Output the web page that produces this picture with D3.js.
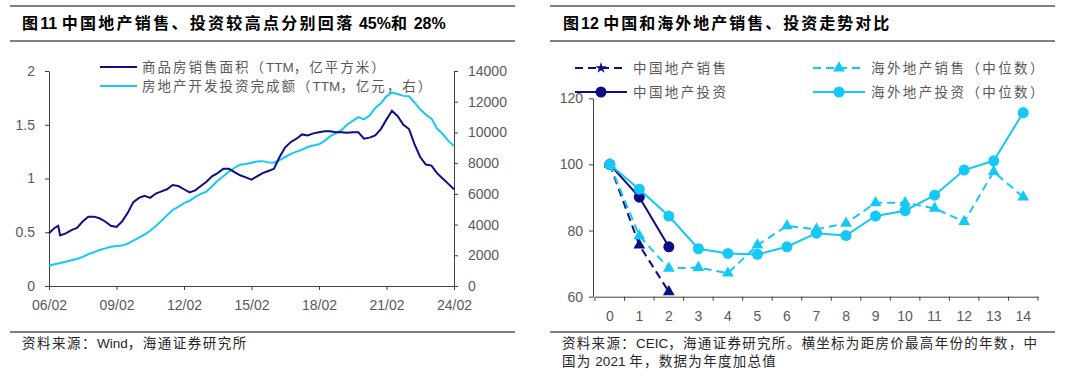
<!DOCTYPE html>
<html>
<head>
<meta charset="utf-8">
<script src="https://cdn.jsdelivr.net/npm/d3@7"></script>
<style>
  body { margin: 0; background: #fff; }
  svg text { font-family: "Liberation Sans", "Noto Sans CJK SC", sans-serif; }
  .tick text { fill: #595959; font-size: 14px; }
  .axis path, .axis line { stroke: #404040; }
</style>
</head>
<body>
<div id="chart"></div>
<script>
// left chart: quarterly readings (TTM)
const months = ['2006-02','2006-05','2006-07','2006-08','2006-11','2007-02','2007-05','2007-08','2007-11',
  '2008-02','2008-05','2008-08','2008-11','2009-02','2009-05','2009-08','2009-11',
  '2010-02','2010-05','2010-08','2010-11','2011-02','2011-05','2011-08','2011-11',
  '2012-02','2012-05','2012-08','2012-11','2013-02','2013-05','2013-08','2013-11',
  '2014-02','2014-05','2014-08','2014-11','2015-02','2015-05','2015-08','2015-11',
  '2016-02','2016-05','2016-08','2016-11','2017-02','2017-05','2017-08','2017-11',
  '2018-02','2018-05','2018-08','2018-11','2019-02','2019-05','2019-08','2019-11',
  '2020-02','2020-05','2020-08','2020-11','2021-02','2021-05','2021-08','2021-11',
  '2022-02','2022-05','2022-08','2022-11','2023-02','2023-05','2023-08','2023-11','2024-02'];
const salesArea = [0.49,0.54,0.56,0.47,0.49,0.52,0.54,0.60,0.645,
  0.645,0.63,0.60,0.56,0.55,0.60,0.68,0.78,
  0.82,0.84,0.82,0.86,0.88,0.90,0.94,0.93,
  0.90,0.87,0.89,0.93,0.97,1.02,1.05,1.09,
  1.09,1.06,1.03,1.01,0.99,1.02,1.05,1.07,
  1.09,1.20,1.29,1.34,1.37,1.41,1.40,1.42,
  1.43,1.44,1.44,1.43,1.43,1.425,1.43,1.43,
  1.37,1.38,1.40,1.46,1.55,1.63,1.58,1.50,
  1.46,1.32,1.20,1.13,1.12,1.05,1.00,0.95,0.90];
const investment = [1320,1420,1470,1500,1580,1680,1760,1900,2080,
  2200,2350,2450,2560,2600,2630,2750,2950,
  3150,3350,3600,3900,4250,4600,4950,5150,
  5400,5550,5800,6000,6150,6500,6850,7150,
  7450,7700,7900,7950,8030,8100,8130,8050,
  8030,8200,8400,8600,8750,8880,9050,9150,
  9230,9450,9750,9950,10150,10500,10750,11000,
  10850,11100,11600,11900,12350,12600,12500,12380,
  12350,11950,11500,11150,10900,10250,9900,9450,9120];
const leftTicks = ['2006-02','2009-02','2012-02','2015-02','2018-02','2021-02','2024-02'];

// right chart: years from price peak
const years = d3.range(0, 15);
const cnSales = [100, 75.6, 61.5];
const cnInvest = [100, 90.1, 75.1];
const osSales = [100, 78.4, 68.6, 68.8, 67.1, 75.6, 81.4, 80.4, 82.2, 88.4, 88.4, 86.7, 82.7, 97.8, 90.1];
const osInvest = [100, 92.5, 84.4, 74.5, 73.1, 72.8, 75.1, 79.2, 78.5, 84.4, 86.0, 90.7, 98.3, 101.1, 115.7];

const dark = '#0d0d86';
const light = '#14c8f8';
const W = 1080, H = 378;

const svg = d3.select('#chart').append('svg')
  .attr('width', W).attr('height', H);

// text with spaced-out CJK runs, latin left as is
function label(x, y, str, size, color, spacing, bold) {
  const t = svg.append('text').attr('x', x).attr('y', y)
    .style('font-size', size + 'px').attr('fill', color);
  if (bold) t.style('font-weight', 'bold');
  str.match(/[\u3000-\u9fff\uff00-\uffef]+|[^\u3000-\u9fff\uff00-\uffef]+/g).forEach(run => {
    const cjk = /[\u3000-\u9fff\uff00-\uffef]/.test(run);
    t.append('tspan').style('letter-spacing', cjk ? spacing + 'px' : '0px').text(run);
  });
  return t;
}

// title bars and footnote rules
[[10, 515], [550, 1055]].forEach(([a, b]) => {
  [6, 41, 332].forEach(y => {
    svg.append('line').attr('x1', a).attr('x2', b).attr('y1', y).attr('y2', y)
      .attr('stroke', '#808080').attr('stroke-width', 2);
  });
});

label(22, 29, '图11 中国地产销售、投资较高点分别回落 45%和 28%', 16, '#000', 2.3, true);
label(563, 29, '图12 中国和海外地产销售、投资走势对比', 16, '#000', 2, true);

// ---- left chart ----
const parse = d3.timeParse('%Y-%m');
const dates = months.map(parse);

const xL = d3.scaleTime().domain([parse('2006-02'), parse('2024-02')]).range([49, 454]);
const yL = d3.scaleLinear().domain([0, 2]).range([286, 71]);
const yR = d3.scaleLinear().domain([0, 14000]).range([286, 71]);

svg.append('g').attr('class', 'axis').attr('transform', 'translate(0,286)')
  .call(d3.axisBottom(xL).tickValues(leftTicks.map(parse)).tickFormat(d3.timeFormat('%y/%m'))
    .tickSizeInner(4).tickSizeOuter(0).tickPadding(10));
svg.append('g').attr('class', 'axis').attr('transform', 'translate(49,0)')
  .call(d3.axisLeft(yL).tickValues([0, 0.5, 1, 1.5, 2]).tickFormat(d => d)
    .tickSizeInner(4).tickSizeOuter(0).tickPadding(10));
svg.append('g').attr('class', 'axis').attr('transform', 'translate(454,0)')
  .call(d3.axisRight(yR).tickValues(d3.range(0, 14001, 2000)).tickFormat(d => d)
    .tickSizeInner(4).tickSizeOuter(0).tickPadding(10));

svg.append('path').datum(investment)
  .attr('fill', 'none').attr('stroke', light).attr('stroke-width', 2)
  .attr('d', d3.line().x((d, i) => xL(dates[i])).y(d => yR(d)));
svg.append('path').datum(salesArea)
  .attr('fill', 'none').attr('stroke', dark).attr('stroke-width', 2)
  .attr('d', d3.line().x((d, i) => xL(dates[i])).y(d => yL(d)));

const legL = [['商品房销售面积（TTM，亿平方米）', dark], ['房地产开发投资完成额（TTM，亿元，右）', light]];
legL.forEach(([t, c], i) => {
  const y = 67 + i * 19;
  svg.append('line').attr('x1', 100).attr('x2', 137).attr('y1', y).attr('y2', y)
    .attr('stroke', c).attr('stroke-width', 2);
  label(142, y + 5, t, 13.5, '#595959', 2);
});

// ---- right chart ----
const xC = d3.scaleBand().domain(years).range([595, 1038]);
const yC = d3.scaleLinear().domain([60, 120]).range([296.7, 98.3]);
const cx = i => xC(i) + xC.bandwidth() / 2;

const xAxisC = svg.append('g').attr('class', 'axis').attr('transform', 'translate(0,296.7)')
  .call(d3.axisBottom(xC).tickSize(0).tickPadding(14));
xAxisC.selectAll('.tick').append('line')
  .attr('x1', -xC.bandwidth() / 2).attr('x2', -xC.bandwidth() / 2).attr('y2', 4).attr('stroke', '#404040');
xAxisC.append('line').attr('x1', 1038).attr('x2', 1038).attr('y2', 4).attr('stroke', '#404040');
svg.append('g').attr('class', 'axis').attr('transform', 'translate(593,0)')
  .call(d3.axisLeft(yC).tickValues([60, 80, 100, 120]).tickSizeInner(4).tickSizeOuter(0).tickPadding(6));

const tri = d3.symbol().type(d3.symbolTriangle).size(60);
const series = [
  {vals: cnSales, color: dark, dash: '8,5', mark: 'tri'},
  {vals: cnInvest, color: dark, dash: null, mark: 'dot'},
  {vals: osSales, color: light, dash: '8,5', mark: 'tri'},
  {vals: osInvest, color: light, dash: null, mark: 'dot'}
];
series.forEach(s => {
  svg.append('path').datum(s.vals)
    .attr('fill', 'none').attr('stroke', s.color).attr('stroke-width', 2)
    .attr('stroke-dasharray', s.dash)
    .attr('d', d3.line().x((d, i) => cx(i)).y(d => yC(d)));
  const g = svg.append('g');
  if (s.mark === 'dot') {
    g.selectAll('circle').data(s.vals).join('circle')
      .attr('cx', (d, i) => cx(i)).attr('cy', d => yC(d)).attr('r', 5.5).attr('fill', s.color);
  } else {
    g.selectAll('path').data(s.vals).join('path')
      .attr('d', tri).attr('fill', s.color)
      .attr('transform', (d, i) => `translate(${cx(i)},${yC(d)})`);
  }
});

const legC = [
  ['中国地产销售', dark, '8,5', 'star', 575, 68],
  ['中国地产投资', dark, null, 'dot', 575, 92],
  ['海外地产销售（中位数）', light, '8,5', 'tri', 813, 68],
  ['海外地产投资（中位数）', light, null, 'dot', 813, 92]
];
legC.forEach(([t, c, dash, m, x, y]) => {
  svg.append('line').attr('x1', x).attr('x2', x + 52).attr('y1', y).attr('y2', y)
    .attr('stroke', c).attr('stroke-width', 2).attr('stroke-dasharray', dash);
  if (m === 'dot') {
    svg.append('circle').attr('cx', x + 26).attr('cy', y).attr('r', 5.5).attr('fill', c);
  } else {
    const sym = m === 'star' ? d3.symbol().type(d3.symbolStar).size(40) : tri;
    svg.append('path').attr('d', sym).attr('fill', c).attr('transform', `translate(${x + 26},${y})`);
  }
  label(x + 58, y + 5, t, 13.5, '#595959', 2.4);
});

// footnotes
label(22, 348, '资料来源：Wind，海通证券研究所', 13.5, '#262626', 1.5);
label(562, 348, '资料来源：CEIC，海通证券研究所。横坐标为距房价最高年份的年数，中', 13.5, '#262626', 1.3);
label(562, 366, '国为 2021 年，数据为年度加总值', 13.5, '#262626', 1.3);
</script>
</body>
</html>
